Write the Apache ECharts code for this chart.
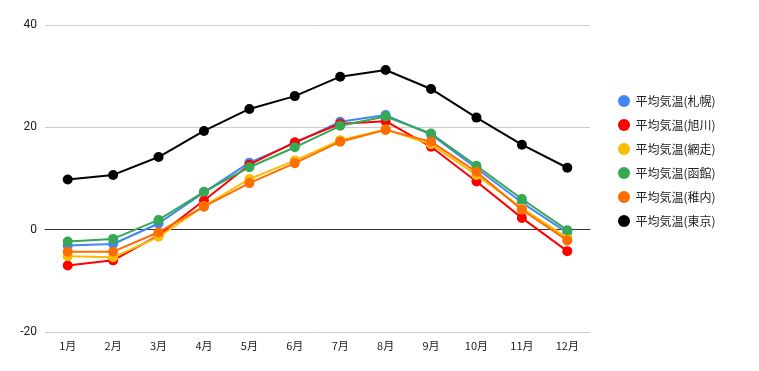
<!DOCTYPE html>
<html><head><meta charset="utf-8">
<script src="https://cdn.jsdelivr.net/npm/echarts@6/dist/echarts.min.js"></script>
<style>html,body{margin:0;padding:0;background:#fff}#c{width:759px;height:371px}</style>
</head><body><div id="c"></div>
<script>
const months = ['1月','2月','3月','4月','5月','6月','7月','8月','9月','10月','11月','12月'];
const sapporo = [-3.1,-2.8,1.2,7.3,13.1,16.9,21.1,22.4,18.6,12.0,5.3,-0.6];
const asahikawa = [-7.0,-6.0,-1.1,5.7,12.7,17.1,20.7,21.2,16.2,9.4,2.3,-4.2];
const abashiri = [-5.2,-5.4,-1.4,4.6,9.9,13.5,17.5,19.6,16.7,10.7,4.2,-1.6];
const hakodate = [-2.3,-1.8,1.9,7.4,12.2,16.1,20.3,22.1,18.8,12.5,6.0,-0.1];
const wakkanai = [-4.3,-4.3,-0.5,4.5,9.1,13.0,17.2,19.5,17.2,11.3,3.9,-2.1];
const tokyo = [9.8,10.7,14.2,19.3,23.6,26.1,29.9,31.2,27.5,21.9,16.6,12.1];
const seriesNames = ['平均気温(札幌)','平均気温(旭川)','平均気温(網走)','平均気温(函館)','平均気温(稚内)','平均気温(東京)'];
const seriesData = [sapporo, asahikawa, abashiri, hakodate, wakkanai, tokyo];
const colors = ['#4285F4','#FF0000','#FBBC04','#34A853','#FF6D01','#000000'];

const chart = echarts.init(document.getElementById('c'), null, {renderer:'canvas'});
chart.setOption({
  animation:false,
  color: colors,
  textStyle:{fontFamily:'Roboto, Arial, sans-serif'},
  grid:{left:45, right:169, top:25, bottom:39},
  legend:{
    orient:'vertical', left:613, top:90, itemGap:12,
    icon:'circle', itemWidth:13, itemHeight:12,
    textStyle:{fontSize:12, lineHeight:12, color:'#222', fontFamily:'"Noto Sans CJK JP", Roboto, sans-serif'},
    data: seriesNames
  },
  xAxis:{
    type:'category', data: months, boundaryGap:true,
    axisLine:{show:true, onZero:true, lineStyle:{color:'#333', width:1}},
    axisTick:{show:false},
    axisLabel:{color:'#222', fontSize:11, margin:8,
      fontFamily:'"Noto Sans CJK JP", Roboto, sans-serif'},
  },
  yAxis:{
    type:'value', min:-20, max:40, interval:20,
    axisLine:{show:false}, axisTick:{show:false},
    axisLabel:{color:'#222', fontSize:12, margin:8},
    splitLine:{lineStyle:{color:'#ccc'}}
  },
  series: seriesData.map((d,i)=>({
    name: seriesNames[i], type:'line', data:d,
    symbol:'circle', symbolSize:10,
    lineStyle:{width:2}, itemStyle:{color:colors[i]},
    z: 2+i
  }))
});
</script></body></html>
